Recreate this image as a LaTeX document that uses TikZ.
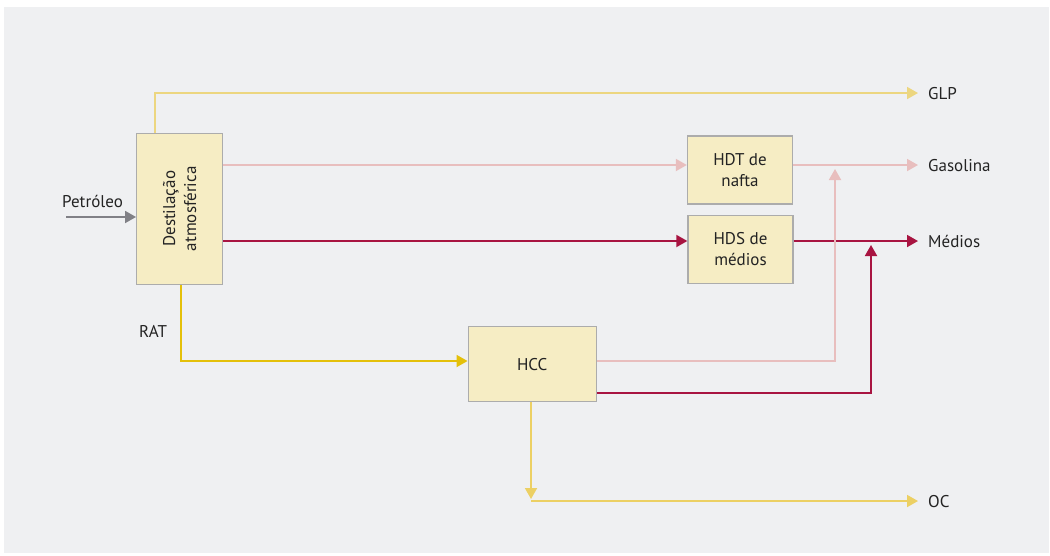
\documentclass[tikz,border=0pt]{standalone}
\usepackage{fontspec}
\setmainfont{PT Sans}
\usetikzlibrary{arrows.meta}
\definecolor{bgc}{RGB}{239,240,242}
\definecolor{boxfill}{RGB}{246,237,196}
\definecolor{boxline}{RGB}{172,172,172}
\definecolor{txt}{RGB}{35,35,35}
\definecolor{glpc}{RGB}{236,214,128}
\definecolor{ratc}{RGB}{228,192,10}
\definecolor{occ}{RGB}{236,208,100}
\definecolor{pinkc}{RGB}{232,190,190}
\definecolor{crim}{RGB}{168,20,65}
\definecolor{grayc}{RGB}{128,128,134}
\tikzset{
  box/.style={draw=boxline, fill=boxfill, line width=1.3pt, inner sep=0pt, align=center,
    text=txt, font=\fontsize{17}{21}\selectfont},
  lbl/.style={inner sep=0pt, text=txt, font=\fontsize{17}{21}\selectfont, text height=12pt, text depth=0pt},
  flow/.style={line width=1.8pt, -{Triangle[length=11pt,width=12pt]}},
}
\begin{document}
\begin{tikzpicture}[x=1pt,y=-1pt]
\useasboundingbox (0,0) rectangle (1050,555);
\fill[white] (0,0) rectangle (1050,555);
\fill[bgc] (4,7) rectangle (1049,553);

% boxes
\node[box, rotate=90, minimum width=151pt, minimum height=86pt] (dest) at (179.7,208.8) {Destilação\\atmosférica};
\node[box, minimum width=105pt, minimum height=68pt] (hdt) at (740,170) {HDT de\\nafta};
\node[box, minimum width=105pt, minimum height=68pt] (hds) at (740.5,249.5) {HDS de\\médios};
\node[box, minimum width=128pt, minimum height=75pt] (hcc) at (532.2,364.2) {HCC};

% labels
\node[lbl, anchor=west] (glp) at (928,93) {GLP};
\node[lbl, anchor=west] (gas) at (928,165) {Gasolina};
\node[lbl, anchor=west] (med) at (928,241) {Médios};
\node[lbl, anchor=west] (oc) at (928,501) {OC};
\node[lbl, anchor=base west] (pet) at (62,207) {Petróleo};
\node[lbl, anchor=base west] (rat) at (139,337) {RAT};

% bend points
\coordinate (pin) at (66,217);
\coordinate (glpb) at (155,93);
\coordinate (ratb) at (181,361);
\coordinate (pkb) at (835,361);
\coordinate (crb) at (871,393);
\coordinate (ocb) at (531,501);

% connectors
\draw[flow, grayc] (pin) -- (pin -| dest.north);
\draw[flow, glpc, shorten >=10pt] (dest.east -| glpb) -- (glpb) -- (glp.west);
\draw[flow, pinkc] (dest.south |- gas.west) -- (hdt.west |- gas.west);
\draw[flow, pinkc, shorten >=10pt] (hdt.east |- gas.west) -- (gas.west);
\draw[flow, crim] (dest.south |- med.west) -- (hds.west |- med.west);
\draw[flow, crim, shorten >=10pt] (hds.east |- med.west) -- (med.west);
\draw[flow, ratc] (dest.west -| ratb) -- (ratb) -- (hcc.west |- ratb);
\draw[flow, pinkc, shorten >=4pt] (hcc.east |- pkb) -- (pkb) -- (pkb |- gas.west);
\draw[flow, crim, shorten >=4pt] (hcc.east |- crb) -- (crb) -- (crb |- med.west);
\draw[flow, occ, shorten >=2pt] (hcc.south -| ocb) -- (ocb);
\draw[flow, occ, shorten >=10pt] (ocb) -- (oc.west);
\end{tikzpicture}
\end{document}
